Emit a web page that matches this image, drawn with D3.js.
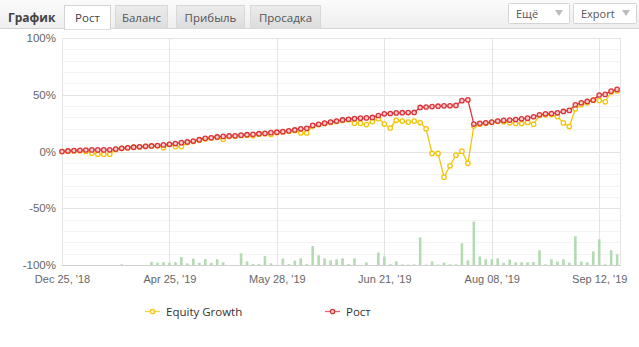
<!DOCTYPE html>
<html>
<head>
<meta charset="utf-8">
<script src="https://cdnjs.cloudflare.com/ajax/libs/d3/7.8.5/d3.min.js"></script>
<style>
  html, body { margin: 0; padding: 0; background: #fff; }
  #chart { width: 639px; height: 347px; }
</style>
</head>
<body>
<div id="chart"></div>
<script>
const tabs = ["Рост", "Баланс", "Прибыль", "Просадка"];
const xTickIndex = [0, 18, 36, 54, 72, 90];
const xTickLabels = ["Dec 25, '18", "Apr 25, '19", "May 28, '19", "Jun 21, '19", "Aug 08, '19", "Sep 12, '19"];
const yTicks = [100, 50, 0, -50, -100];

// growth, %
const growth = [
  0, 0.5, 0.8, 1.1, 1.3, 1.4, 1.4, 1.4, 1.5, 2.1,
  2.8, 3.3, 3.8, 4.2, 4.6, 4.9, 5.2, 5.8, 6.4, 7.0,
  7.8, 8.4, 9.2, 10.4, 11.6, 12.1, 12.8, 13.3, 13.7, 13.8,
  14.4, 14.8, 15.1, 15.7, 16.0, 16.6, 17.0, 17.5, 18.2, 19.0,
  20.0, 20.4, 23.0, 24.0, 25.0, 26.0, 26.8, 27.8, 28.4, 29.0,
  29.4, 29.6, 30.0, 31.7, 33.2, 33.5, 34.0, 34.2, 34.3, 34.4,
  38.8, 39.2, 39.6, 39.9, 40.2, 40.3, 40.6, 44.8, 45.5, 24.2,
  24.8, 25.3, 25.9, 26.8, 27.4, 27.7, 28.2, 28.8, 29.4, 30.6,
  32.4, 33.2, 33.5, 34.1, 35.3, 36.2, 41.2, 42.9, 44.1, 45.3,
  49.8, 50.3, 53.2, 54.7
];

// equity growth, %
const equity = [
  0, 0.3, 0.5, 0.6, 0, -1.5, -2.4, -2.5, -2.5, 1.8,
  2.8, 3.3, 3.8, 4.0, 4.5, 4.8, 5.0, 3.5, 6.2, 4.3,
  4.4, 8.0, 8.8, 10.0, 11.0, 11.8, 12.5, 10.8, 13.2, 13.5,
  14.0, 14.4, 13.8, 15.3, 15.7, 15.0, 16.6, 17.2, 17.8, 18.6,
  16.4, 16.4, 22.5, 23.6, 24.6, 25.6, 26.5, 27.4, 28.0, 24.8,
  24.8, 23.7, 26.4, 29.0, 24.2, 20.7, 27.5, 26.8, 25.9, 26.8,
  25.5, 20.0, -1.7, -1.7, -22.6, -12.6, -3.2, 0.3, -10.4, 22.5,
  24.1, 25.0, 25.7, 26.6, 26.2, 25.3, 24.7, 24.7, 25.6, 24.1,
  31.8, 32.2, 32.5, 30.8, 25.2, 22.0, 37.6, 41.2, 42.9, 45.2,
  45.0, 43.8, 52.4, 53.4
];

// bars along the bottom (same units as the % axis, measured from -100%)
const bars = [
  0, 0, 0, 0, 0, 0, 0, 0, 0, 0,
  0.6, 0, 0, 0, 0, 2.8, 2, 2.5, 2, 2.5,
  7, 1.5, 5.5, 2, 5.3, 2, 5, 2.4, 0, 0,
  10.3, 3.2, 0.8, 0.8, 8, 1.5, 0, 5.6, 0.8, 3.8,
  5.9, 0.8, 16.8, 8.5, 5.9, 4.1, 5, 5.9, 0.8, 5.9,
  0, 2.4, 0, 11, 7.5, 0.6, 3.3, 0.6, 0.4, 0.6,
  24.3, 0.4, 3.1, 0.4, 2.1, 0.6, 0.6, 19, 4, 38.2,
  7.5, 5, 5, 5.9, 2, 4.7, 2.4, 2.4, 2.4, 2.7,
  13, 0.6, 5, 3, 5, 2, 25.3, 3, 2.4, 12,
  22.7, 0.6, 13, 9.4
];

const width = 639, height = 347;
const svg = d3.select("#chart").append("svg")
  .attr("width", width).attr("height", height)
  .style("font-family", "'Liberation Sans', Arial, sans-serif");

// header
const defs = svg.append("defs");
const g1 = defs.append("linearGradient").attr("id", "hdr").attr("x1", 0).attr("y1", 0).attr("x2", 0).attr("y2", 1);
g1.append("stop").attr("offset", "0%").attr("stop-color", "#fbfbfb");
g1.append("stop").attr("offset", "100%").attr("stop-color", "#eeeeee");
const g2 = defs.append("linearGradient").attr("id", "tab").attr("x1", 0).attr("y1", 0).attr("x2", 0).attr("y2", 1);
g2.append("stop").attr("offset", "0%").attr("stop-color", "#ececec");
g2.append("stop").attr("offset", "100%").attr("stop-color", "#dcdcdc");

svg.append("rect").attr("x", 0).attr("y", 0).attr("width", width).attr("height", 29).attr("fill", "url(#hdr)");
svg.append("line").attr("x1", 0).attr("x2", width).attr("y1", 28.5).attr("y2", 28.5).attr("stroke", "#d4d4d4");

svg.append("text").attr("x", 8).attr("y", 22).text("График")
  .style("font-family", "'Open Sans', sans-serif").style("font-weight", "bold")
  .style("font-size", "12px").attr("fill", "#444");

const tabBox = [[64, 46], [115, 52], [176, 68], [250, 70]];
tabs.forEach((t, i) => {
  const [x, w] = tabBox[i];
  const active = i === 0;
  svg.append("rect").attr("x", x + 0.5).attr("y", 5.5).attr("width", w).attr("height", active ? 24 : 23)
    .attr("fill", active ? "#fff" : "url(#tab)").attr("stroke", active ? "#d4d4d4" : "#d8d8d8");
  svg.append("text").attr("x", x + w / 2 + 0.5).attr("y", 22).attr("text-anchor", "middle").text(t)
    .style("font-family", "'Open Sans', sans-serif").style("font-size", "11.5px")
    .attr("fill", active ? "#444" : "#555");
});
svg.append("line").attr("x1", 65).attr("x2", 110).attr("y1", 28.5).attr("y2", 28.5).attr("stroke", "#fff").attr("stroke-width", 1.5);

[["Ещё", 508, 61], ["Export", 573, 63]].forEach(([t, x, w]) => {
  svg.append("rect").attr("x", x + 0.5).attr("y", 3.5).attr("width", w).attr("height", 20)
    .attr("fill", "#fff").attr("stroke", "#d4d4d4").attr("rx", 1);
  svg.append("text").attr("x", x + 8).attr("y", 17.5).text(t)
    .style("font-family", "'Open Sans', sans-serif").style("font-size", "11px").attr("fill", "#555");
  const tx = x + w - 10;
  svg.append("path").attr("d", `M${tx - 4},10 L${tx + 4},10 L${tx},16 Z`).attr("fill", "#bbb");
});

// plot
const x = d3.scaleLinear().domain([0, 93.65]).range([62, 621]);
const y = d3.scaleLinear().domain([-100, 100]).range([265, 38]);

const grid = svg.append("g");
grid.selectAll("line.minor").data(d3.range(-90, 100, 10).filter(v => v % 50 !== 0)).enter()
  .append("line").attr("class", "minor")
  .attr("x1", 62).attr("x2", 621)
  .attr("y1", d => Math.round(y(d)) + 0.5).attr("y2", d => Math.round(y(d)) + 0.5)
  .attr("stroke", "#f3f3f3");
grid.selectAll("line.major").data(yTicks).enter()
  .append("line").attr("class", "major")
  .attr("x1", 62).attr("x2", 621)
  .attr("y1", d => Math.round(y(d)) + 0.5).attr("y2", d => Math.round(y(d)) + 0.5)
  .attr("stroke", d => d === -100 ? "#cfcfcf" : "#e4e4e4");
grid.selectAll("line.vert").data(xTickIndex).enter()
  .append("line").attr("class", "vert")
  .attr("x1", d => Math.round(x(d)) + 0.5).attr("x2", d => Math.round(x(d)) + 0.5)
  .attr("y1", 38).attr("y2", 265)
  .attr("stroke", "#e4e4e4");
grid.append("line").attr("x1", 620.5).attr("x2", 620.5).attr("y1", 38).attr("y2", 265).attr("stroke", "#e4e4e4");

// bars
svg.append("g").selectAll("rect").data(bars).enter().append("rect")
  .attr("x", (d, i) => x(i) - 1.3)
  .attr("width", 2.6)
  .attr("y", d => y(-100 + d))
  .attr("height", d => y(-100) - y(-100 + d))
  .attr("fill", "#b4dab4");

// axes
const xAxis = d3.axisBottom(x).tickValues(xTickIndex)
  .tickFormat((d, i) => xTickLabels[i]).tickSize(0).tickPadding(10);
const gx = svg.append("g").attr("transform", "translate(0,265)").call(xAxis);
gx.select(".domain").remove();
gx.selectAll("text").style("font-size", "11px").attr("fill", "#666")
  .style("font-family", "'Liberation Sans', Arial, sans-serif");

const yAxis = d3.axisLeft(y).tickValues(yTicks).tickFormat(d => d + "%").tickSize(0).tickPadding(5);
const gy = svg.append("g").attr("transform", "translate(61,0)").call(yAxis);
gy.select(".domain").remove();
gy.selectAll("text").style("font-size", "11.5px").attr("fill", "#666")
  .style("font-family", "'Liberation Sans', Arial, sans-serif");

// lines
const series = [
  { name: "Equity Growth", values: equity, color: "#f2c40c", fill: "#fff" },
  { name: "Рост", values: growth, color: "#d8363c", fill: "#f7d0d0" }
];
const line = d3.line().x((d, i) => x(i)).y(d => y(d));
series.forEach(s => {
  const g = svg.append("g");
  g.append("path").datum(s.values).attr("d", line)
    .attr("fill", "none").attr("stroke", s.color).attr("stroke-width", 1.3);
  g.selectAll("circle").data(s.values).enter().append("circle")
    .attr("cx", (d, i) => x(i)).attr("cy", d => y(d)).attr("r", 2.2)
    .attr("fill", s.fill).attr("stroke", s.color).attr("stroke-width", 1.3);
});

// legend
const legX = [145, 325];
series.forEach((s, i) => {
  const g = svg.append("g").attr("transform", `translate(${legX[i]},311.5)`).attr("opacity", 1);
  g.append("line").attr("x1", 0).attr("x2", 15).attr("stroke", s.color).attr("stroke-width", 1.3).attr("opacity", 0.75);
  g.append("circle").attr("cx", 7.5).attr("r", 2.2).attr("fill", s.fill).attr("stroke", s.color).attr("stroke-width", 1.3);
  g.append("text").attr("x", 21).attr("y", 4).text(s.name)
    .style("font-family", "'Open Sans', sans-serif").style("font-size", "11.5px").attr("fill", "#333");
});
</script>
</body>
</html>
